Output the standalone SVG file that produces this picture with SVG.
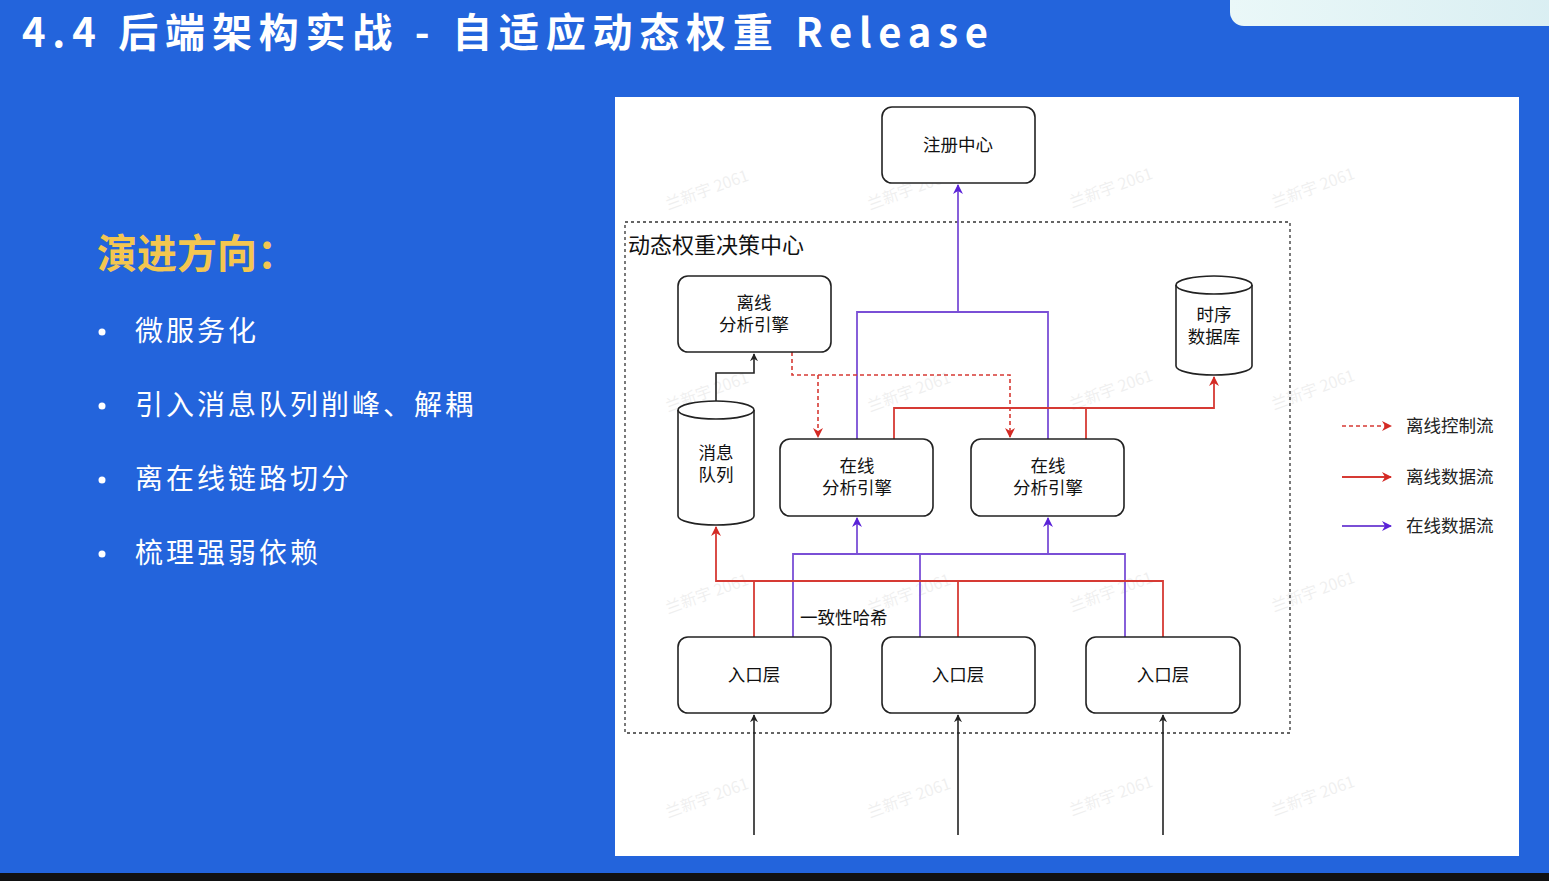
<svg xmlns="http://www.w3.org/2000/svg" width="1549" height="881" viewBox="0 0 1549 881">
  <defs>
    <style>
      .cjk { font-family: "Noto Sans CJK SC", "Noto Sans", sans-serif; }
      .node { fill: #ffffff; stroke: #222222; stroke-width: 1.6; }
      .lbl { font-family: "Noto Sans CJK SC", sans-serif; font-size: 17.5px; fill: #111111; text-anchor: middle; }
      .bullet { font-family: "Noto Sans CJK SC", sans-serif; font-size: 28px; fill: #ffffff; letter-spacing: 3px; }
      .dot { fill: #ffffff; }
      .on { fill: none; stroke: #7a4fd6; stroke-width: 1.8; }
      .off { fill: none; stroke: #d63a34; stroke-width: 1.8; }
      .ctl { fill: none; stroke: #d63a34; stroke-width: 1.6; stroke-dasharray: 4 3; }
      .blk { fill: none; stroke: #222222; stroke-width: 1.6; }
      .wm { font-family: "Noto Sans CJK SC", sans-serif; font-size: 16px; fill: #000000; opacity: 0.06; }
    </style>
    <marker id="aBlk" viewBox="0 0 10 10" refX="9" refY="5" markerWidth="8" markerHeight="8" markerUnits="userSpaceOnUse" orient="auto">
      <path d="M0,0 L10,5 L0,10 L3,5 Z" fill="#222222"/>
    </marker>
    <marker id="aOn" viewBox="0 0 10 10" refX="9" refY="5" markerWidth="10" markerHeight="10" markerUnits="userSpaceOnUse" orient="auto">
      <path d="M0,0 L10,5 L0,10 L3,5 Z" fill="#5a22d8"/>
    </marker>
    <marker id="aOff" viewBox="0 0 10 10" refX="9" refY="5" markerWidth="10" markerHeight="10" markerUnits="userSpaceOnUse" orient="auto">
      <path d="M0,0 L10,5 L0,10 L3,5 Z" fill="#d42a24"/>
    </marker>
    <linearGradient id="tab" x1="0" y1="0" x2="1" y2="0">
      <stop offset="0" stop-color="#eaf8f8"/>
      <stop offset="1" stop-color="#d9eef2"/>
    </linearGradient>
  </defs>

  <!-- slide background -->
  <rect x="0" y="0" width="1549" height="881" fill="#2364dc"/>
  <rect x="0" y="873" width="1549" height="8" fill="#111111"/>
  <rect x="1230" y="-14" width="340" height="40" rx="14" fill="url(#tab)"/>

  <!-- title -->
  <text x="22" y="47" class="cjk" font-size="40" font-weight="bold" fill="#ffffff" textLength="966" lengthAdjust="spacing">4.4 后端架构实战 - 自适应动态权重 Release</text>

  <!-- left column -->
  <text x="97" y="268" class="cjk" font-size="40" font-weight="bold" fill="#f3c650">演进方向：</text>
  <g id="bullets">
    <circle class="dot" cx="102" cy="332" r="3.5"/>
    <text class="bullet" x="135" y="341">微服务化</text>
    <circle class="dot" cx="102" cy="406" r="3.5"/>
    <text class="bullet" x="135" y="415">引入消息队列削峰、解耦</text>
    <circle class="dot" cx="102" cy="480" r="3.5"/>
    <text class="bullet" x="135" y="489">离在线链路切分</text>
    <circle class="dot" cx="102" cy="554" r="3.5"/>
    <text class="bullet" x="135" y="563">梳理强弱依赖</text>
  </g>

  <!-- diagram canvas -->
  <rect x="615" y="97" width="904" height="759" fill="#ffffff"/>

  <!-- faint tiled watermark -->
  <g id="watermark">
    <text class="wm" x="668" y="210" transform="rotate(-20 668 210)">兰新宇 2061</text>
    <text class="wm" x="870" y="210" transform="rotate(-20 870 210)">兰新宇 2061</text>
    <text class="wm" x="1072" y="208" transform="rotate(-20 1072 208)">兰新宇 2061</text>
    <text class="wm" x="1274" y="208" transform="rotate(-20 1274 208)">兰新宇 2061</text>
    <text class="wm" x="668" y="412" transform="rotate(-20 668 412)">兰新宇 2061</text>
    <text class="wm" x="870" y="412" transform="rotate(-20 870 412)">兰新宇 2061</text>
    <text class="wm" x="1072" y="410" transform="rotate(-20 1072 410)">兰新宇 2061</text>
    <text class="wm" x="1274" y="410" transform="rotate(-20 1274 410)">兰新宇 2061</text>
    <text class="wm" x="668" y="614" transform="rotate(-20 668 614)">兰新宇 2061</text>
    <text class="wm" x="870" y="614" transform="rotate(-20 870 614)">兰新宇 2061</text>
    <text class="wm" x="1072" y="612" transform="rotate(-20 1072 612)">兰新宇 2061</text>
    <text class="wm" x="1274" y="612" transform="rotate(-20 1274 612)">兰新宇 2061</text>
    <text class="wm" x="668" y="818" transform="rotate(-20 668 818)">兰新宇 2061</text>
    <text class="wm" x="870" y="818" transform="rotate(-20 870 818)">兰新宇 2061</text>
    <text class="wm" x="1072" y="816" transform="rotate(-20 1072 816)">兰新宇 2061</text>
    <text class="wm" x="1274" y="816" transform="rotate(-20 1274 816)">兰新宇 2061</text>
  </g>

  <!-- decision centre boundary -->
  <g id="decision-center">
    <rect x="625" y="222" width="665" height="511" fill="none" stroke="#333333" stroke-width="1.3" stroke-dasharray="3 3"/>
    <text x="628" y="253" class="cjk" font-size="22" fill="#111111">动态权重决策中心</text>
  </g>

  <!-- connectors -->
  <g id="connectors">
    <!-- online data flow -->
    <polyline class="on" points="857,439 857,312 1048,312 1048,439"/>
    <line class="on" x1="958" y1="312" x2="958" y2="185" marker-end="url(#aOn)"/>
    <polyline class="on" points="793,637 793,554 1125,554 1125,637"/>
    <line class="on" x1="920" y1="554" x2="920" y2="637"/>
    <line class="on" x1="857" y1="554" x2="857" y2="518" marker-end="url(#aOn)"/>
    <line class="on" x1="1048" y1="554" x2="1048" y2="518" marker-end="url(#aOn)"/>

    <!-- offline control flow -->
    <polyline class="ctl" points="792,352 792,375 1010,375 1010,437" marker-end="url(#aOff)"/>
    <line class="ctl" x1="818" y1="375" x2="818" y2="437" marker-end="url(#aOff)"/>

    <!-- offline data flow -->
    <polyline class="off" points="894,439 894,408 1214,408 1214,377" marker-end="url(#aOff)"/>
    <line class="off" x1="1086" y1="439" x2="1086" y2="408"/>
    <polyline class="off" points="1163,637 1163,581 716,581 716,527" marker-end="url(#aOff)"/>
    <line class="off" x1="754" y1="581" x2="754" y2="637"/>
    <line class="off" x1="958" y1="581" x2="958" y2="637"/>

    <!-- queue to offline engine -->
    <polyline class="blk" points="716,401 716,373 754,373 754,354" marker-end="url(#aBlk)"/>

    <!-- incoming traffic -->
    <line class="blk" x1="754" y1="835" x2="754" y2="715" marker-end="url(#aBlk)"/>
    <line class="blk" x1="958" y1="835" x2="958" y2="715" marker-end="url(#aBlk)"/>
    <line class="blk" x1="1163" y1="835" x2="1163" y2="715" marker-end="url(#aBlk)"/>

    <text x="800" y="624" class="cjk" font-size="17.5" fill="#111111">一致性哈希</text>
  </g>

  <!-- nodes -->
  <g id="registry">
    <rect class="node" x="882" y="107" width="153" height="76" rx="10"/>
    <text class="lbl" x="958" y="151">注册中心</text>
  </g>
  <g id="offline-engine">
    <rect class="node" x="678" y="276" width="153" height="76" rx="10"/>
    <text class="lbl" x="754" y="309">离线</text>
    <text class="lbl" x="754" y="331">分析引擎</text>
  </g>
  <g id="tsdb">
    <path class="node" d="M1176,285 A38,9 0 0 1 1252,285 L1252,366 A38,9 0 0 1 1176,366 Z"/>
    <path fill="none" stroke="#222222" stroke-width="1.6" d="M1176,285 A38,9 0 0 0 1252,285"/>
    <text class="lbl" x="1214" y="321">时序</text>
    <text class="lbl" x="1214" y="343">数据库</text>
  </g>
  <g id="mq">
    <path class="node" d="M678,410 A38,9 0 0 1 754,410 L754,516 A38,9 0 0 1 678,516 Z"/>
    <path fill="none" stroke="#222222" stroke-width="1.6" d="M678,410 A38,9 0 0 0 754,410"/>
    <text class="lbl" x="716" y="459">消息</text>
    <text class="lbl" x="716" y="481">队列</text>
  </g>
  <g id="online-engine-1">
    <rect class="node" x="780" y="439" width="153" height="77" rx="10"/>
    <text class="lbl" x="857" y="472">在线</text>
    <text class="lbl" x="857" y="494">分析引擎</text>
  </g>
  <g id="online-engine-2">
    <rect class="node" x="971" y="439" width="153" height="77" rx="10"/>
    <text class="lbl" x="1048" y="472">在线</text>
    <text class="lbl" x="1048" y="494">分析引擎</text>
  </g>
  <g id="entry-1">
    <rect class="node" x="678" y="637" width="153" height="76" rx="10"/>
    <text class="lbl" x="754" y="681">入口层</text>
  </g>
  <g id="entry-2">
    <rect class="node" x="882" y="637" width="153" height="76" rx="10"/>
    <text class="lbl" x="958" y="681">入口层</text>
  </g>
  <g id="entry-3">
    <rect class="node" x="1086" y="637" width="154" height="76" rx="10"/>
    <text class="lbl" x="1163" y="681">入口层</text>
  </g>

  <!-- legend -->
  <g id="legend">
    <line class="ctl" x1="1342" y1="426" x2="1391" y2="426" marker-end="url(#aOff)"/>
    <text x="1406" y="432" class="cjk" font-size="17.5" fill="#222222">离线控制流</text>
    <line class="off" x1="1342" y1="477" x2="1391" y2="477" marker-end="url(#aOff)"/>
    <text x="1406" y="483" class="cjk" font-size="17.5" fill="#222222">离线数据流</text>
    <line class="on" x1="1342" y1="526" x2="1391" y2="526" marker-end="url(#aOn)"/>
    <text x="1406" y="532" class="cjk" font-size="17.5" fill="#222222">在线数据流</text>
  </g>
</svg>
